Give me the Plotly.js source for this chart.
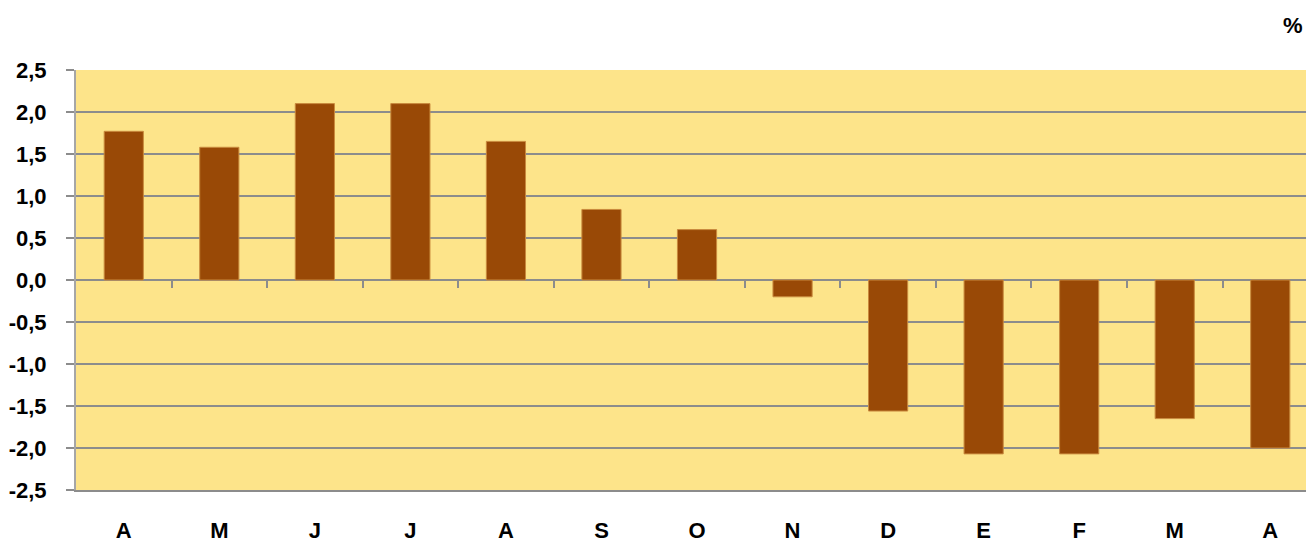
<!DOCTYPE html>
<html>
<head>
<meta charset="utf-8">
<script src="https://cdn.plot.ly/plotly-3.0.1.min.js"></script>
<style>
  html, body { margin: 0; padding: 0; background: #ffffff; }
  #chart { width: 1306px; height: 543px; }
</style>
</head>
<body>
<div id="chart"></div>
<script>
// Monthly rate of change, %
const months = ['A', 'M', 'J', 'J', 'A', 'S', 'O', 'N', 'D', 'E', 'F', 'M', 'A'];
const values = [1.77, 1.58, 2.10, 2.10, 1.65, 0.84, 0.60, -0.20, -1.56, -2.07, -2.07, -1.65, -2.00];
const yTicks = [-2.5, -2.0, -1.5, -1.0, -0.5, 0.0, 0.5, 1.0, 1.5, 2.0, 2.5];

const positions = months.map((_, i) => i);
const yTickText = yTicks.map(v => v.toFixed(1).replace('.', ','));
const boundaries = months.slice(1).map((_, i) => i + 0.5);

const labelFont = { family: 'Liberation Sans', size: 22, color: '#000000', weight: 700 };

const bars = {
  type: 'bar',
  x: positions,
  y: values,
  width: 0.41,
  marker: { color: '#994906', line: { color: '#c98a3e', width: 1 } },
  hoverinfo: 'skip'
};

// Invisible trace that carries the tick marks drawn along the zero line
const zeroTicks = {
  type: 'scatter',
  x: positions,
  y: values,
  xaxis: 'x2',
  yaxis: 'y',
  mode: 'none',
  showlegend: false,
  hoverinfo: 'skip'
};

const layout = {
  width: 1306,
  height: 543,
  margin: { l: 76, r: 0, t: 70, b: 53 },
  paper_bgcolor: '#ffffff',
  plot_bgcolor: '#fde48a',
  showlegend: false,
  bargap: 0,
  font: labelFont,
  xaxis: {
    range: [-0.5, 12.374],
    tickmode: 'array',
    tickvals: positions,
    ticktext: months,
    ticks: '',
    showgrid: false,
    zeroline: false,
    showline: true,
    linecolor: '#8c8c8c',
    linewidth: 2,
    tickfont: labelFont,
    ticklabelstandoff: 20,
    fixedrange: true
  },
  xaxis2: {
    overlaying: 'x',
    matches: 'x',
    anchor: 'free',
    position: 0.5,
    side: 'bottom',
    tickmode: 'array',
    tickvals: boundaries,
    ticks: 'outside',
    ticklen: 7,
    tickwidth: 2,
    tickcolor: '#8c8c8c',
    showticklabels: false,
    showgrid: false,
    zeroline: false,
    showline: false
  },
  yaxis: {
    range: [-2.5, 2.5],
    tickmode: 'array',
    tickvals: yTicks,
    ticktext: yTickText,
    ticks: 'outside',
    ticklen: 8,
    tickwidth: 2,
    tickcolor: '#8c8c8c',
    showgrid: true,
    gridcolor: '#8c8c8c',
    gridwidth: 2,
    zeroline: false,
    showline: true,
    linecolor: '#a6a6a6',
    linewidth: 2,
    tickfont: labelFont,
    ticklabelstandoff: 15,
    fixedrange: true
  },
  annotations: [{
    text: '%',
    xref: 'paper', yref: 'paper',
    x: 1, y: 1,
    xanchor: 'right', yanchor: 'bottom',
    yshift: 30,
    xshift: -1,
    showarrow: false,
    font: labelFont
  }]
};

Plotly.newPlot('chart', [bars, zeroTicks], layout, { displayModeBar: false, staticPlot: true });
</script>
</body>
</html>
